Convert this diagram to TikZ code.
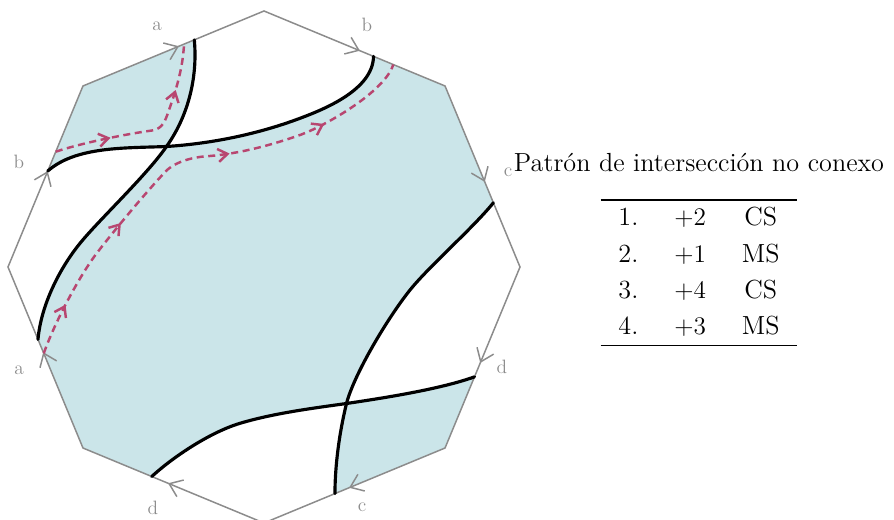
\documentclass[tikz,border=0pt]{standalone}
\usetikzlibrary{arrows.meta,decorations.markings,calc}

\definecolor{cellblue}{RGB}{203,229,233}
\definecolor{tripred}{RGB}{184,70,112}
\definecolor{edgegray}{RGB}{140,140,140}

% the four cutting curves (x1, x2 are their crossings)
\newcommand{\curveA}{(a1) .. controls (-1.32,3.74) and (-1.544,2.98) .. (x1)
    .. controls (-2.348,1.834) and (-3.302,0.94) .. (-3.68,0.474)
    .. controls (-4.084,-0.022) and (-4.46,-0.76) .. (a2)}
\newcommand{\curveB}{(b1) .. controls (-3.76,2.42) and (-2.746,2.376) .. (x1)
    .. controls (-1.046,2.468) and (-0.122,2.658) .. (0.72,2.974)
    .. controls (1.188,3.15) and (2.18,3.54) .. (b2)}
\newcommand{\curveC}{(c1) .. controls (4.194,0.794) and (3.296,0.008) .. (2.92,-0.46)
    .. controls (2.482,-1.006) and (1.80,-2.144) .. (x2)
    .. controls (1.508,-3.308) and (1.42,-3.96) .. (c2)}
\newcommand{\curveD}{(d1) .. controls (-1.788,-3.772) and (-1.054,-3.298) .. (-0.48,-3.126)
    .. controls (0.19,-2.926) and (0.96,-2.826) .. (x2)
    .. controls (2.446,-2.612) and (3.53,-2.44) .. (d2)}

\begin{document}
\begin{tikzpicture}[
    side/.style={draw=edgegray, line width=0.85pt, line cap=round, postaction={decorate},
        decoration={markings, mark=at position 0.53 with {\arrow{Straight Barb[length=2.4mm,width=3.6mm]}}}},
    cut/.style={line width=1.8pt, line cap=round},
    trip/.style={draw=tripred, line width=1.4pt, dash pattern=on 4pt off 2.6pt, postaction={decorate},
        >={Straight Barb[length=1.9mm,width=2.6mm]}},
    lbl/.style={text=edgegray, font=\fontsize{11}{13}\selectfont},
    region/.style={fill=cellblue, even odd rule}
]
    \useasboundingbox (-5.28,-5.06) rectangle (12.6,5.34);

    % octagon corners
    \coordinate (v0) at (90:5.12);
    \coordinate (v1) at (45:5.12);
    \coordinate (v2) at (0:5.12);
    \coordinate (v3) at (-45:5.12);
    \coordinate (v4) at (-90:5.12);
    \coordinate (v5) at (-135:5.12);
    \coordinate (v6) at (180:5.12);
    \coordinate (v7) at (135:5.12);

    % where curves meet the sides
    \coordinate (a1) at ($(v7)!0.615!(v0)$);
    \coordinate (a2) at ($(v5)!0.6!(v6)$);
    \coordinate (b1) at ($(v6)!0.53!(v7)$);
    \coordinate (b2) at ($(v0)!0.605!(v1)$);
    \coordinate (c1) at ($(v1)!0.645!(v2)$);
    \coordinate (c2) at ($(v3)!0.608!(v4)$);
    \coordinate (d1) at ($(v4)!0.62!(v5)$);
    \coordinate (d2) at ($(v2)!0.607!(v3)$);
    \coordinate (p1) at ($(v5)!0.523!(v6)$);
    \coordinate (p2) at ($(v0)!0.714!(v1)$);
    \coordinate (q1) at ($(v6)!0.637!(v7)$);
    \coordinate (q2) at ($(v7)!0.558!(v0)$);
    \coordinate (x1) at (-1.95,2.41);
    \coordinate (x2) at (1.65,-2.73);

    % shaded cells
    \fill[region] (v0) -- (v1) -- (v2) -- (v3) -- (v4) -- (v5) -- (v6) -- (v7) -- cycle
        \curveA -- (v6) -- (v7) -- cycle
        \curveB -- (v0) -- (v7) -- cycle
        \curveC -- (v3) -- (v2) -- cycle
        \curveD -- (v3) -- (v4) -- cycle;

    \draw[side] (v7) -- (v0);
    \draw[side] (v0) -- (v1);
    \draw[side] (v1) -- (v2);
    \draw[side] (v2) -- (v3);
    \draw[side] (v3) -- (v4);
    \draw[side] (v4) -- (v5);
    \draw[side] (v5) -- (v6);
    \draw[side] (v6) -- (v7);

    \draw[cut] \curveA;
    \draw[cut] \curveB;
    \draw[cut] \curveC;
    \draw[cut] \curveD;

    \draw[trip, decoration={markings, mark=at position 0.111 with {\arrow{>}},
        mark=at position 0.317 with {\arrow{>}}, mark=at position 0.60 with {\arrow{>}},
        mark=at position 0.807 with {\arrow{>}}}]
        (p1) .. controls (-4.202,-1.148) and (-3.71,-0.204) .. (-3.346,0.274)
        .. controls (-2.92,0.83) and (-2.28,1.58) .. (-2.014,1.86)
        .. controls (-1.84,2.08) and (-1.48,2.20) .. (-1.08,2.22)
        .. controls (-0.48,2.27) and (0.154,2.44) .. (0.72,2.64)
        .. controls (1.192,2.806) and (2.42,3.50) .. (p2);
    \draw[trip, decoration={markings, mark=at position 0.29 with {\arrow{>}},
        mark=at position 0.76 with {\arrow{>}}}]
        (q1) .. controls (-3.58,2.50) and (-2.68,2.67) .. (-2.24,2.73)
        .. controls (-2.04,2.76) and (-1.98,2.90) .. (-1.90,3.14)
        .. controls (-1.80,3.42) and (-1.62,3.94) .. (q2);

    \node[lbl] (la1) at (-2.14,4.82) {a};
    \node[lbl] (lb1) at (2.06,4.84) {b};
    \node[lbl] (lc1) at (4.88,1.90) {c};
    \node[lbl] (ld1) at (4.76,-2.00) {d};
    \node[lbl] (lc2) at (1.96,-4.80) {c};
    \node[lbl] (ld2) at (-2.22,-4.82) {d};
    \node[lbl] (la2) at (-4.90,-2.06) {a};
    \node[lbl] (lb2) at (-4.90,2.10) {b};

    \node[anchor=base, font=\fontsize{14.9}{18}\selectfont] (title) at (8.70,1.906) {Patrón de intersección no conexo};
    \node[anchor=north, inner sep=0pt, font=\fontsize{14.9}{18}\selectfont] (tbl) at (8.70,1.36) {%
        \setlength{\tabcolsep}{10.2pt}\setlength{\arrayrulewidth}{0.8pt}\renewcommand{\arraystretch}{1.14}%
        \begin{tabular}{ccc}
            \hline
            1. & $+2$ & CS\\
            2. & $+1$ & MS\\
            3. & $+4$ & CS\\
            4. & $+3$ & MS\\
            \hline
        \end{tabular}};
\end{tikzpicture}
\end{document}
